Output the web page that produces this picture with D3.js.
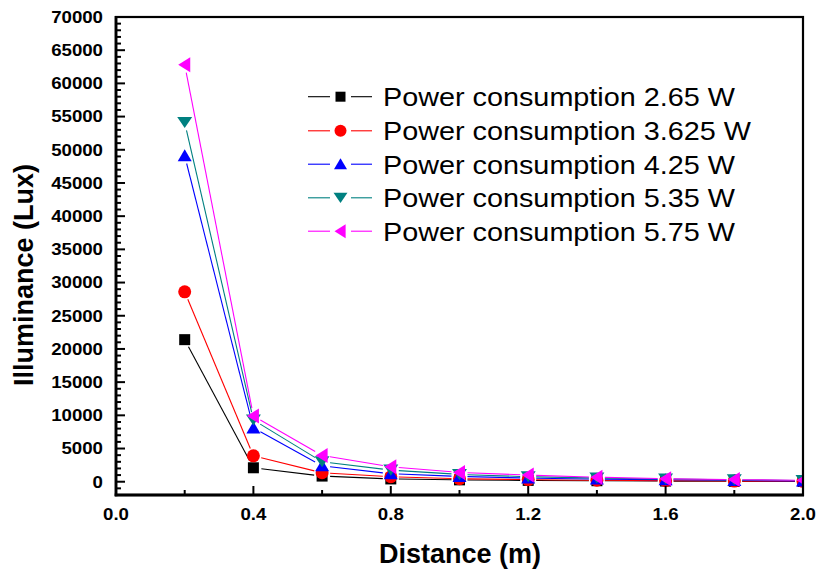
<!DOCTYPE html>
<html>
<head>
<meta charset="utf-8">
<script src="https://cdn.jsdelivr.net/npm/d3@7"></script>
<style>
html,body{margin:0;padding:0;background:#fff;}
svg{display:block;}
text{font-family:"Liberation Sans",Arial,sans-serif;}
</style>
</head>
<body>
<svg id="chart" width="817" height="570"></svg>
<script>
// ---- data ----
const distances = [0.2, 0.4, 0.6, 0.8, 1.0, 1.2, 1.4, 1.6, 1.8, 2.0];
const seriesNames = ["Power consumption 2.65 W", "Power consumption 3.625 W", "Power consumption 4.25 W", "Power consumption 5.35 W", "Power consumption 5.75 W"];
const lux265  = [21400, 2100,  850, 420, 280, 200, 150, 100, 60, 40];
const lux3625 = [28600, 3900, 1350, 750, 450, 320, 220, 150, 100, 60];
const lux425  = [49100, 8100, 2400, 1200, 800, 550, 400, 300, 200, 120];
const lux535  = [54100, 9300, 3000, 1750, 1100, 750, 550, 400, 280, 180];
const lux575  = [62800, 9900, 3950, 2250, 1400, 1000, 680, 450, 320, 220];
const seriesValues = [lux265, lux3625, lux425, lux535, lux575];
const yTicks = [0, 5000, 10000, 15000, 20000, 25000, 30000, 35000, 40000, 45000, 50000, 55000, 60000, 65000, 70000];
const xTicks = [0.0, 0.4, 0.8, 1.2, 1.6, 2.0];

// ---- styles ----
const colors = ["#000000", "#ff0000", "#0000ff", "#008080", "#ff00ff"];
const shapes = ["square", "circle", "up", "down", "left"];
const L = 116, R = 803, T = 17, B = 495;

const svg = d3.select("#chart");
const x = d3.scaleLinear().domain([0, 2.0]).range([L, R]);
const y = d3.scaleLinear().domain([-2000, 70000]).range([B, T]);

function markerPath(shape, s) {
  const h = s / 2;
  switch (shape) {
    case "square": return `M${-h},${-h}h${s}v${s}h${-s}Z`;
    case "circle": return d3.symbol(d3.symbolCircle, Math.PI * h * h)();
    case "up": return `M0,${-h}L${h + 0.5},${h * 0.85}L${-h - 0.5},${h * 0.85}Z`;
    case "down": return `M0,${h * 0.85}L${h + 1},${-h * 0.85}L${-h - 1},${-h * 0.85}Z`;
    case "left": return `M${-h},0L${h * 0.85},${-h - 1}L${h * 0.85},${h + 1}Z`;
  }
}
const markerSize = [11, 13, 13, 13, 13];

svg.append("defs").append("clipPath").attr("id", "clip")
  .append("rect").attr("x", L).attr("y", T).attr("width", R - L).attr("height", B - T);

const plot = svg.append("g").attr("clip-path", "url(#clip)");
const gap = 8;
seriesValues.forEach((vals, si) => {
  const pts = distances.map((d, i) => [x(d), y(vals[i])]);
  const g = plot.append("g");
  for (let i = 0; i < pts.length - 1; i++) {
    const [x1, y1] = pts[i], [x2, y2] = pts[i + 1];
    const len = Math.hypot(x2 - x1, y2 - y1);
    if (len <= 2 * gap) continue;
    const ux = (x2 - x1) / len, uy = (y2 - y1) / len;
    g.append("line")
      .attr("x1", x1 + ux * gap).attr("y1", y1 + uy * gap)
      .attr("x2", x2 - ux * gap).attr("y2", y2 - uy * gap)
      .attr("stroke", colors[si]).attr("stroke-width", 1.1);
  }
  g.selectAll("path").data(pts).join("path")
    .attr("transform", p => `translate(${p[0]},${p[1]})`)
    .attr("d", markerPath(shapes[si], markerSize[si]))
    .attr("fill", colors[si]);
});

// ---- axes ----
const yMinor = d3.range(-2000, 70001, 1000);
const xMinor = d3.range(0, 11).map(i => i * 0.2);
const axes = svg.append("g");
axes.selectAll("line.ym").data(yMinor).join("line")
  .attr("x1", L).attr("x2", d => L + (d % 5000 === 0 ? 9 : 5))
  .attr("y1", d => y(d)).attr("y2", d => y(d))
  .attr("stroke", "#000").attr("stroke-width", 2);
axes.selectAll("line.xm").data(xMinor).join("line")
  .attr("x1", d => x(d)).attr("x2", d => x(d))
  .attr("y1", B).attr("y2", (d, i) => B - (i % 2 === 0 ? 9 : 5))
  .attr("stroke", "#000").attr("stroke-width", 2);
axes.append("rect").attr("x", L).attr("y", T).attr("width", R - L).attr("height", B - T)
  .attr("fill", "none").attr("stroke", "#000").attr("stroke-width", 2.2);
axes.append("line").attr("x1", L).attr("x2", L).attr("y1", T - 1).attr("y2", B + 1.3)
  .attr("stroke", "#000").attr("stroke-width", 2.8);
axes.append("line").attr("x1", L - 1.3).attr("x2", R + 1).attr("y1", B).attr("y2", B)
  .attr("stroke", "#000").attr("stroke-width", 2.8);

function stretchText(sel, f) {
  sel.each(function () {
    const w = this.getComputedTextLength();
    d3.select(this).attr("textLength", w * f).attr("lengthAdjust", "spacingAndGlyphs");
  });
}

svg.append("g").selectAll("text").data(yTicks).join("text")
  .attr("x", 103).attr("y", d => y(d) + 5.8)
  .attr("text-anchor", "end").attr("font-weight", "bold").attr("font-size", 16.5)
  .text(d => d).call(stretchText, 1.13);

svg.append("g").selectAll("text").data(xTicks).join("text")
  .attr("x", d => x(d)).attr("y", 520)
  .attr("text-anchor", "middle").attr("font-weight", "bold").attr("font-size", 16.5)
  .text(d => d.toFixed(1)).call(stretchText, 1.13);

svg.append("text").attr("x", 460).attr("y", 563)
  .attr("text-anchor", "middle").attr("font-weight", "bold").attr("font-size", 27)
  .text("Distance (m)");

svg.append("text").attr("transform", "translate(32.5,275) rotate(-90)")
  .attr("text-anchor", "middle").attr("font-weight", "bold").attr("font-size", 27)
  .text("Illuminance (Lux)");

// ---- legend ----
const legendY = [96.7, 130.8, 164.2, 197.8, 231.2];
const leg = svg.append("g");
seriesNames.forEach((name, si) => {
  const cy = legendY[si];
  leg.append("line").attr("x1", 308).attr("x2", 330).attr("y1", cy).attr("y2", cy)
    .attr("stroke", colors[si]).attr("stroke-width", 1.1);
  leg.append("line").attr("x1", 351).attr("x2", 372).attr("y1", cy).attr("y2", cy)
    .attr("stroke", colors[si]).attr("stroke-width", 1.1);
  leg.append("path").attr("transform", `translate(340.5,${cy})`)
    .attr("d", markerPath(shapes[si], markerSize[si] - 1)).attr("fill", colors[si]);
  leg.append("text").attr("x", 383).attr("y", cy + 9.3)
    .attr("font-size", 26).text(name).call(stretchText, 1.107);
});
</script>
</body>
</html>
